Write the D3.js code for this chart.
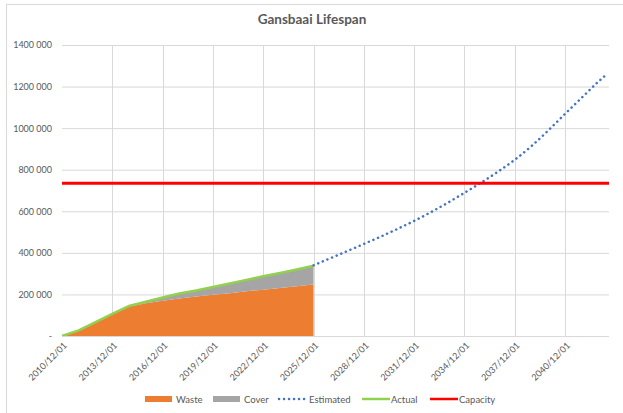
<!DOCTYPE html>
<html>
<head>
<meta charset="utf-8">
<script src="https://d3js.org/d3.v7.min.js"></script>
<style>
  body { margin: 0; background: #fff; }
  text { font-family: Lato, "Open Sans", sans-serif; fill: #595959; }
  .grid line { stroke: #d9d9d9; stroke-width: 1; }
</style>
</head>
<body>
<svg width="623" height="413"></svg>
<script>
// Actual record (yearly, December)
var actualDates = ["2010/12/01","2011/12/01","2012/12/01","2013/12/01","2014/12/01","2015/12/01",
  "2016/12/01","2017/12/01","2018/12/01","2019/12/01","2020/12/01","2021/12/01","2022/12/01",
  "2023/12/01","2024/12/01","2025/12/01"];
var waste = [0, 24000, 63000, 103000, 141000, 158000, 170000, 181000, 190000, 198000, 206000,
  215000, 223000, 231000, 239000, 248000];
var cover = [0, 3000, 4000, 4000, 4000, 7000, 15000, 23000, 29000, 38000, 47000,
  55000, 64000, 72000, 81000, 90000];

// Estimated projection
var estDates = ["2025/12/01","2026/12/01","2027/12/01","2028/12/01","2029/12/01","2030/12/01",
  "2031/12/01","2032/12/01","2033/12/01","2034/12/01","2035/12/01","2036/12/01","2037/12/01",
  "2038/12/01","2039/12/01","2040/12/01","2041/12/01","2042/12/01","2043/06/01"];
var estimated = [340000, 374000, 408000, 443000, 478000, 515000, 554000, 596000, 641000, 689000,
  738000, 791000, 848000, 914000, 989000, 1069000, 1147000, 1225000, 1260000];

var capacity = 735000;
var xTicks = ["2010/12/01","2013/12/01","2016/12/01","2019/12/01","2022/12/01","2025/12/01",
  "2028/12/01","2031/12/01","2034/12/01","2037/12/01","2040/12/01"];
var yTicks = [0, 200000, 400000, 600000, 800000, 1000000, 1200000, 1400000];

var parse = d3.timeParse("%Y/%m/%d");
var svg = d3.select("svg");

// chart border
svg.append("rect").attr("x", 6.5).attr("y", 4.5).attr("width", 700).attr("height", 500)
  .attr("fill", "none").attr("stroke", "#d9d9d9");

var plotLeft = 62, plotRight = 609, plotTop = 45, plotBottom = 336;
var x = d3.scaleTime().domain([parse("2010/12/01"), parse("2043/07/15")]).range([plotLeft, plotRight]);
var y = d3.scaleLinear().domain([0, 1400000]).range([plotBottom, plotTop]);

// title
svg.append("text").attr("x", 312).attr("y", 24).attr("text-anchor", "middle")
  .style("font-size", "13.5px").style("font-weight", "bold").text("Gansbaai Lifespan");

// grid
svg.append("g").attr("class", "grid").selectAll("line").data(yTicks).enter().append("line")
  .attr("x1", plotLeft).attr("x2", plotRight).attr("y1", d => y(d) + 0.5).attr("y2", d => y(d) + 0.5);
svg.append("g").attr("class", "grid").selectAll("line").data(xTicks.slice(1)).enter().append("line")
  .attr("x1", d => Math.round(x(parse(d))) + 0.5).attr("x2", d => Math.round(x(parse(d))) + 0.5)
  .attr("y1", plotTop).attr("y2", plotBottom);

// stacked areas
var rows = actualDates.map(function (d, i) {
  return { date: parse(d), waste: waste[i], cover: cover[i] };
});
var stack = d3.stack().keys(["waste", "cover"])(rows);
var colors = { waste: "#ED7D31", cover: "#A5A5A5" };
var area = d3.area().x(d => x(d.data.date)).y0(d => y(d[0])).y1(d => y(d[1]));
svg.append("g").selectAll("path").data(stack).enter().append("path")
  .attr("d", area).attr("fill", d => colors[d.key]);

// actual line
var line = d3.line().x(d => x(d.date)).y(d => y(d.v));
svg.append("path")
  .datum(rows.map(r => ({ date: r.date, v: r.waste + r.cover })))
  .attr("d", line).attr("fill", "none").attr("stroke", "#92D050").attr("stroke-width", 2.5);

// estimated line
svg.append("path")
  .datum(estDates.map((d, i) => ({ date: parse(d), v: estimated[i] })))
  .attr("d", line.curve(d3.curveMonotoneX)).attr("fill", "none").attr("stroke", "#4472C4")
  .attr("stroke-width", 2.5).attr("stroke-dasharray", "0.1 4.9").attr("stroke-linecap", "round");

// capacity
svg.append("line").attr("x1", plotLeft).attr("x2", plotRight)
  .attr("y1", y(capacity)).attr("y2", y(capacity))
  .attr("stroke", "#FF0000").attr("stroke-width", 3);

// x axis
var xAxis = svg.append("g").attr("transform", "translate(0," + plotBottom + ")")
  .call(d3.axisBottom(x).tickValues(xTicks.map(parse)).tickFormat(d3.timeFormat("%Y/%m/%d"))
    .tickSize(0).tickPadding(0));
xAxis.select(".domain").attr("stroke", "#d9d9d9").attr("d", "M" + plotLeft + ",0.5H" + plotRight);
xAxis.selectAll("text").style("font-size", "9px").style("fill", "#595959")
  .attr("text-anchor", "end").attr("dy", 0).attr("y", 0)
  .attr("transform", "translate(5,10) rotate(-45)");

// y axis
var yAxis = svg.append("g").attr("transform", "translate(" + plotLeft + ",0)")
  .call(d3.axisLeft(y).tickValues(yTicks).tickSize(0).tickPadding(10)
    .tickFormat(d => d === 0 ? "-  " : d3.format("d")(d / 1000) + " 000"));
yAxis.select(".domain").remove();
yAxis.selectAll("text").style("font-size", "9px").style("fill", "#595959");

// legend
var legend = [
  { name: "Waste", type: "rect", color: "#ED7D31", x: 145 },
  { name: "Cover", type: "rect", color: "#A5A5A5", x: 213 },
  { name: "Estimated", type: "dot", color: "#4472C4", x: 278 },
  { name: "Actual", type: "line", color: "#92D050", x: 362 },
  { name: "Capacity", type: "line", color: "#FF0000", x: 430 }
];
var lg = svg.append("g").selectAll("g").data(legend).enter().append("g")
  .attr("transform", d => "translate(" + d.x + ",399)");
lg.filter(d => d.type === "rect").append("rect")
  .attr("x", 0).attr("y", -3).attr("width", 27).attr("height", 6).attr("fill", d => d.color);
lg.filter(d => d.type === "line").append("line")
  .attr("x1", 0).attr("x2", 28).attr("stroke", d => d.color).attr("stroke-width", 2.5);
lg.filter(d => d.type === "dot").append("line")
  .attr("x1", 1).attr("x2", 28).attr("stroke", d => d.color).attr("stroke-width", 2.5)
  .attr("stroke-dasharray", "0.1 4.9").attr("stroke-linecap", "round");
lg.append("text").attr("x", d => d.type === "line" ? 29 : 31).attr("y", 3.5)
  .style("font-size", "9.5px").text(d => d.name);
</script>
</body>
</html>
